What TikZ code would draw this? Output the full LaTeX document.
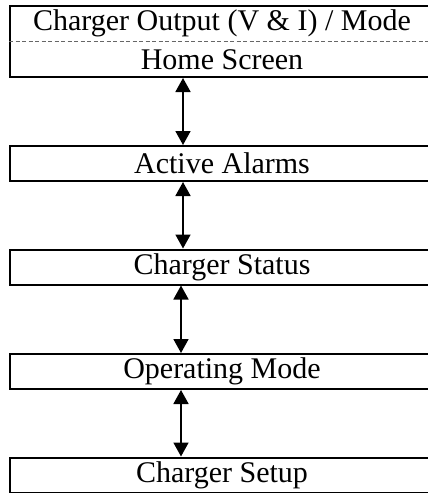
\documentclass[tikz,border=0pt]{standalone}
\usepackage{fontspec}
\setmainfont{Liberation Serif}
\usetikzlibrary{arrows.meta,calc}

\begin{document}
\begin{tikzpicture}[x=1pt,y=-1pt,
	screen/.style={draw, line width=2pt, minimum width=424pt, minimum height=35pt, inner sep=0pt, font=\fontsize{30}{36}\selectfont},
	label/.style={inner sep=0pt, font=\fontsize{30}{36}\selectfont},
	link/.style={{Triangle[length=14pt,width=15pt]}-{Triangle[length=14pt,width=15pt]}, line width=1.7pt}]
	\useasboundingbox (0,0) rectangle (428,493);
	\clip (0,0) rectangle (428,493);

	% top box, split by a dashed line
	\node[screen, minimum height=71pt] (top) at (222,41.5) {};
	\draw[black!60, dash pattern=on 4pt off 2.5pt, line width=1pt] (top.west) -- (top.east);
	\node[label] (output) at ($(top.north)!0.25!(top.south)$) {Charger Output (V \& I) / Mode};
	\node[label] (home) at ($(top.north)!0.75!(top.south)$) {Home Screen};

	% the other screens
	\node[screen] (alarms) at (222,163.5) {Active Alarms};
	\node[screen] (status) at (222,267) {Charger Status};
	\node[screen] (opmode) at (222,371.5) {Operating Mode};
	\node[screen] (setup) at (222,475) {Charger Setup};

	% links between screens
	\foreach \a/\b/\x in {top/alarms/183, alarms/status/183, status/opmode/181, opmode/setup/181}
		\draw[link] (\a.south -| \x,0) -- (\b.north -| \x,0);
\end{tikzpicture}
\end{document}
